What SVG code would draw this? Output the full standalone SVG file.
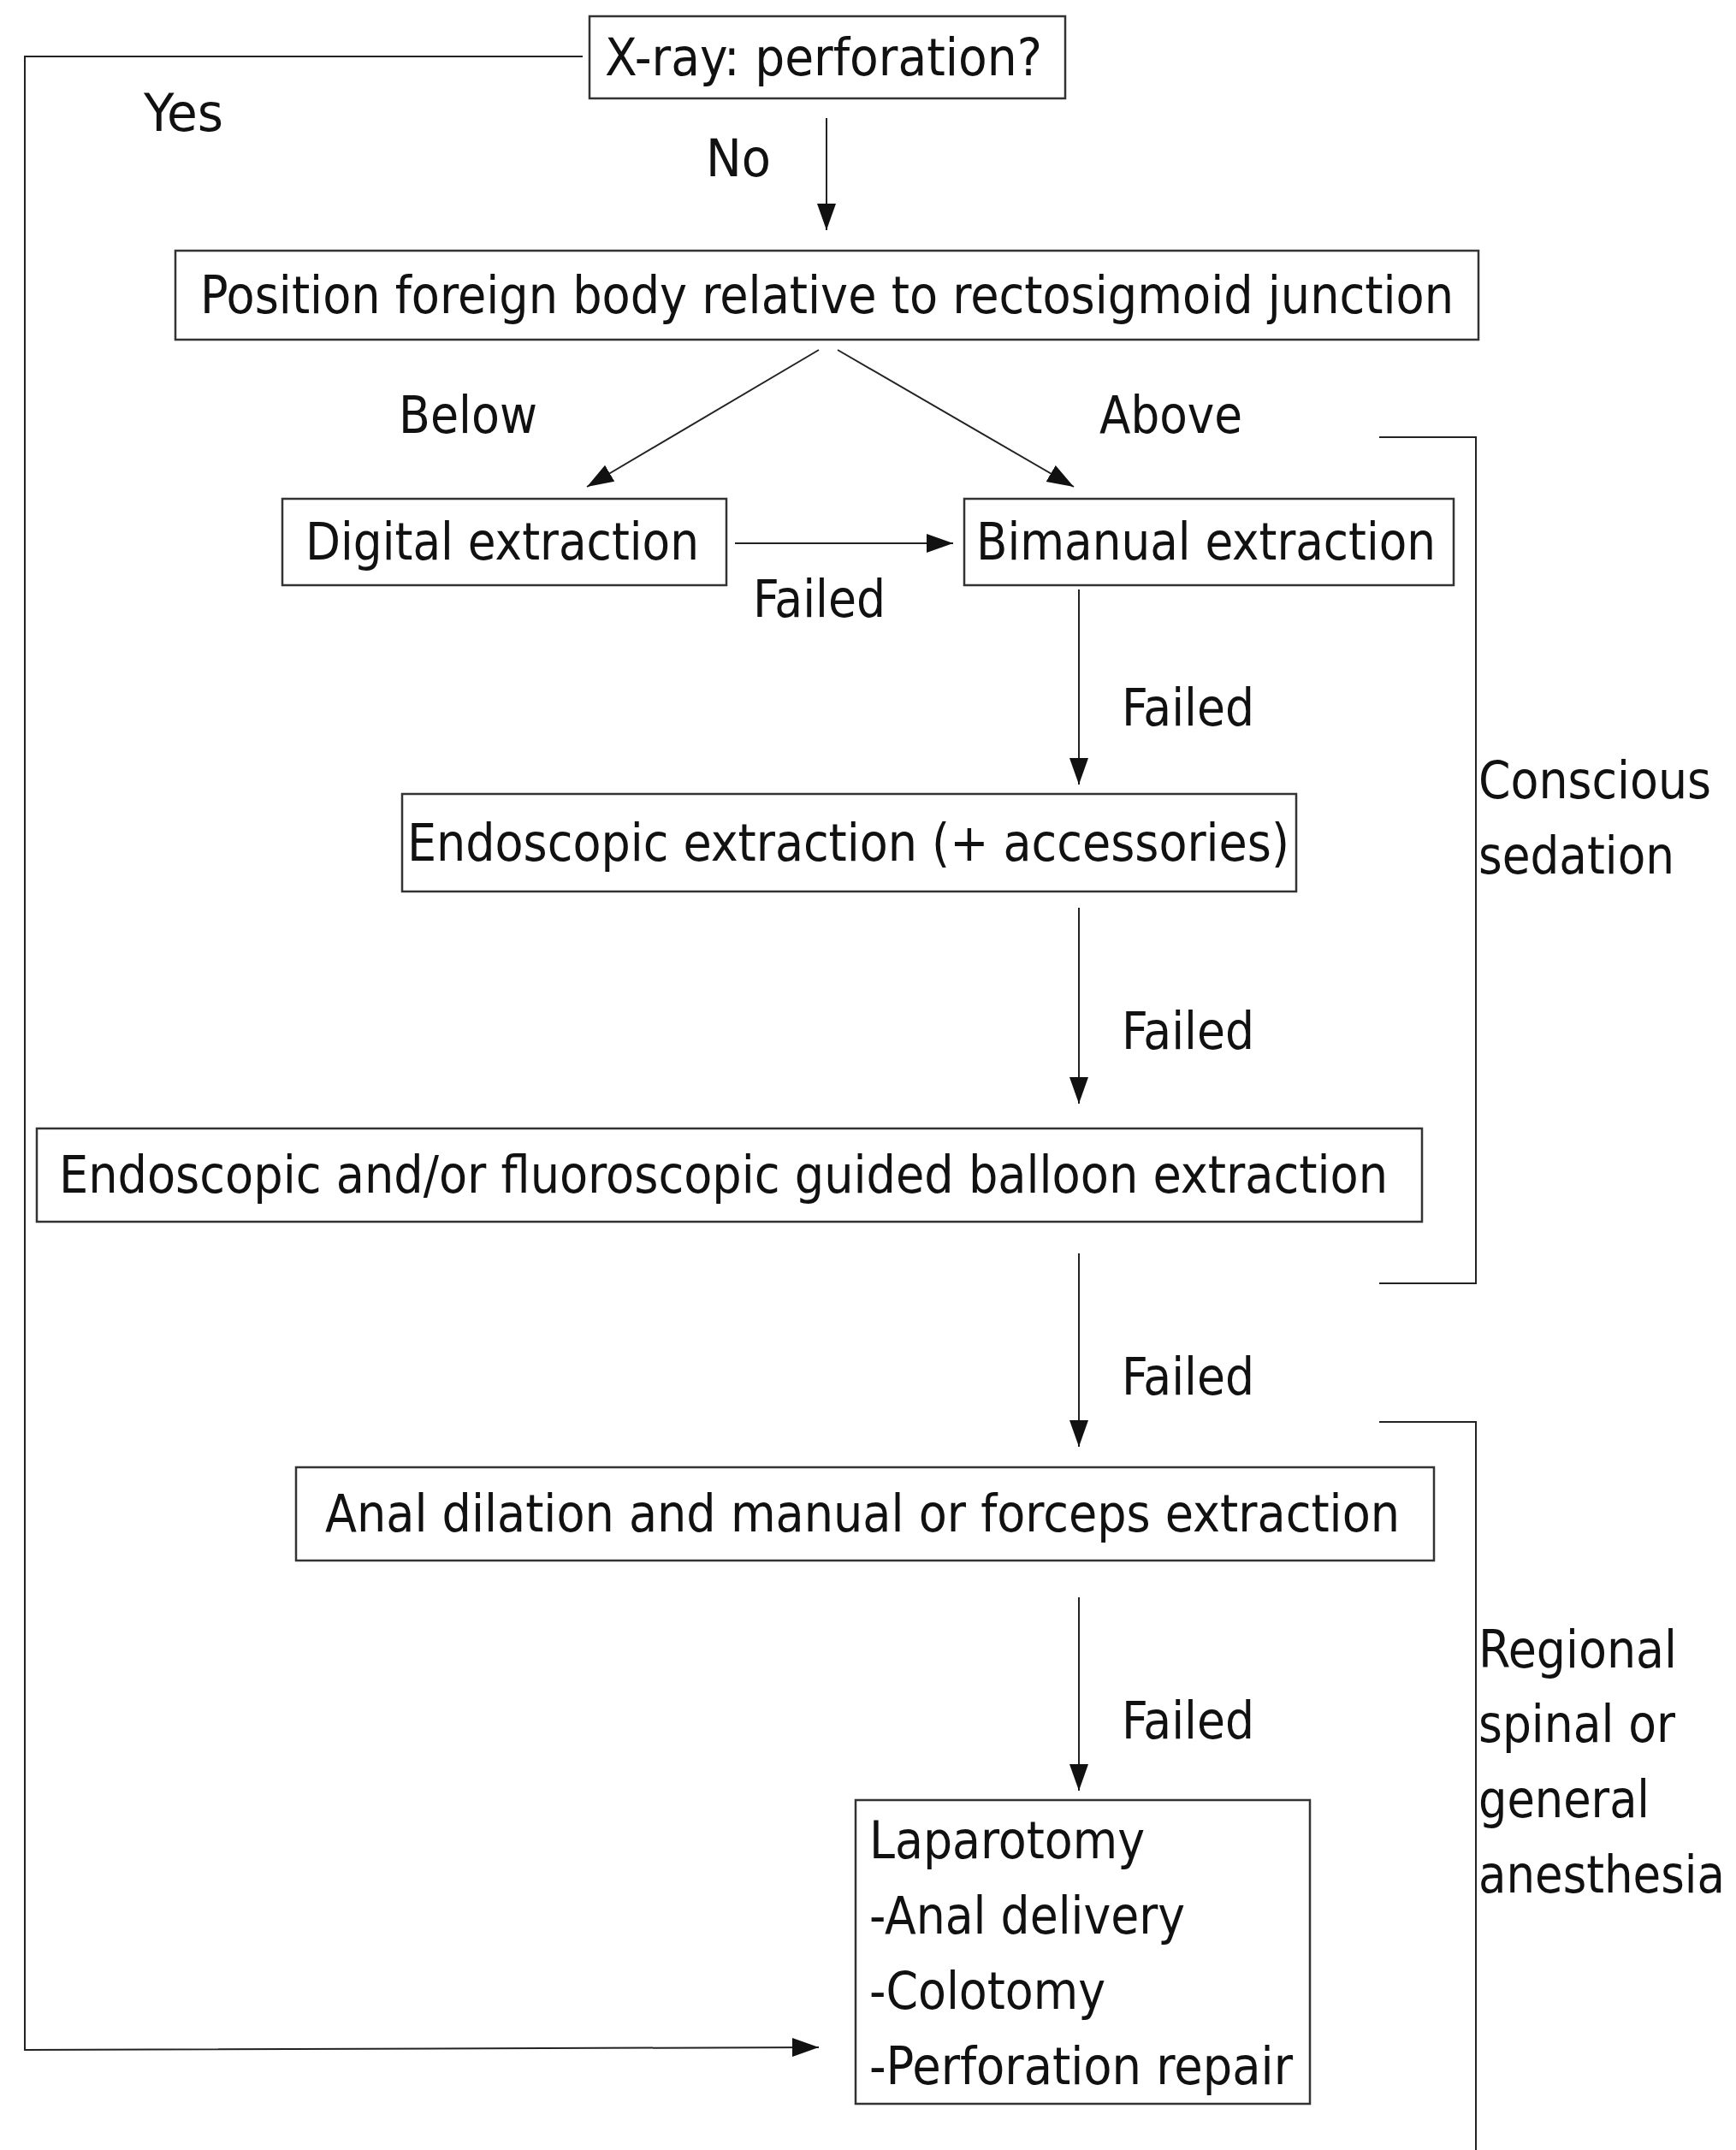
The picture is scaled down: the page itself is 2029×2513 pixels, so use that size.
<svg xmlns="http://www.w3.org/2000/svg" width="2029" height="2513" viewBox="0 0 2029 2513">
<style>
text{font-family:"DejaVu Sans Condensed","DejaVu Sans",sans-serif;font-stretch:condensed;font-size:60px;fill:#111}
.box{fill:#fff;stroke:#333;stroke-width:2.5}
.ln{fill:none;stroke:#222;stroke-width:2}
.ar{fill:none;stroke:#222;stroke-width:2;marker-end:url(#ah)}
</style>
<defs>
<marker id="ah" markerUnits="userSpaceOnUse" markerWidth="36" markerHeight="26" refX="31" refY="11" orient="auto">
<path d="M0,0 L31,11 L0,22 Z" fill="#111"/>
</marker>
</defs>
<rect width="2029" height="2513" fill="#fff"/>
<g id="connectors">
<polyline class="ar" points="681,66 29,66 29,2396 957,2393"/>
<line class="ar" x1="966" y1="138" x2="966" y2="269"/>
<line class="ar" x1="957" y1="409" x2="686" y2="569"/>
<line class="ar" x1="979" y1="409" x2="1255" y2="569"/>
<line class="ar" x1="859" y1="635" x2="1114" y2="635"/>
<line class="ar" x1="1261" y1="689" x2="1261" y2="917"/>
<line class="ar" x1="1261" y1="1061" x2="1261" y2="1290"/>
<line class="ar" x1="1261" y1="1465" x2="1261" y2="1691"/>
<line class="ar" x1="1261" y1="1867" x2="1261" y2="2093"/>
<polyline class="ln" points="1612,511 1725,511 1725,1500 1612,1500"/>
<polyline class="ln" points="1612,1662 1725,1662 1725,2513"/>
</g>
<g id="labels">
<text x="168" y="153" textLength="93" lengthAdjust="spacingAndGlyphs">Yes</text>
<text x="825" y="206" textLength="76" lengthAdjust="spacingAndGlyphs">No</text>
<text x="466" y="506" textLength="162" lengthAdjust="spacingAndGlyphs">Below</text>
<text x="1285" y="506" textLength="167" lengthAdjust="spacingAndGlyphs">Above</text>
<text x="880" y="721" textLength="155" lengthAdjust="spacingAndGlyphs">Failed</text>
<text x="1311" y="848" textLength="155" lengthAdjust="spacingAndGlyphs">Failed</text>
<text x="1311" y="1226" textLength="155" lengthAdjust="spacingAndGlyphs">Failed</text>
<text x="1311" y="1630" textLength="155" lengthAdjust="spacingAndGlyphs">Failed</text>
<text x="1311" y="2032" textLength="155" lengthAdjust="spacingAndGlyphs">Failed</text>
<text x="1728" y="933" textLength="272" lengthAdjust="spacingAndGlyphs">Conscious</text>
<text x="1728" y="1021" textLength="229" lengthAdjust="spacingAndGlyphs">sedation</text>
<text x="1728" y="1949" textLength="232" lengthAdjust="spacingAndGlyphs">Regional</text>
<text x="1728" y="2036" textLength="230" lengthAdjust="spacingAndGlyphs">spinal or</text>
<text x="1728" y="2124" textLength="200" lengthAdjust="spacingAndGlyphs">general</text>
<text x="1728" y="2212" textLength="288" lengthAdjust="spacingAndGlyphs">anesthesia</text>
</g>
<g id="xray"><rect class="box" x="689" y="19" width="556" height="96"/><text x="707" y="88" textLength="511" lengthAdjust="spacingAndGlyphs">X-ray: perforation?</text></g>
<g id="position"><rect class="box" x="205" y="293" width="1523" height="104"/><text x="234" y="366" textLength="1465" lengthAdjust="spacingAndGlyphs">Position foreign body relative to rectosigmoid junction</text></g>
<g id="digital"><rect class="box" x="330" y="583" width="519" height="101"/><text x="357" y="654" textLength="460" lengthAdjust="spacingAndGlyphs">Digital extraction</text></g>
<g id="bimanual"><rect class="box" x="1127" y="583" width="572" height="101"/><text x="1141" y="654" textLength="537" lengthAdjust="spacingAndGlyphs">Bimanual extraction</text></g>
<g id="endoscopic"><rect class="box" x="470" y="928" width="1045" height="114"/><text x="476" y="1006" textLength="1031" lengthAdjust="spacingAndGlyphs">Endoscopic extraction (+ accessories)</text></g>
<g id="balloon"><rect class="box" x="43" y="1319" width="1619" height="109"/><text x="69" y="1394" textLength="1553" lengthAdjust="spacingAndGlyphs">Endoscopic and/or fluoroscopic guided balloon extraction</text></g>
<g id="anal"><rect class="box" x="346" y="1715" width="1330" height="109"/><text x="380" y="1790" textLength="1256" lengthAdjust="spacingAndGlyphs">Anal dilation and manual or forceps extraction</text></g>
<g id="laparotomy"><rect class="box" x="1000" y="2104" width="531" height="355"/>
<text x="1016" y="2172" textLength="322" lengthAdjust="spacingAndGlyphs">Laparotomy</text>
<text x="1016" y="2260" textLength="369" lengthAdjust="spacingAndGlyphs">-Anal delivery</text>
<text x="1016" y="2348" textLength="276" lengthAdjust="spacingAndGlyphs">-Colotomy</text>
<text x="1016" y="2436" textLength="495" lengthAdjust="spacingAndGlyphs">-Perforation repair</text>
</g>
</svg>
